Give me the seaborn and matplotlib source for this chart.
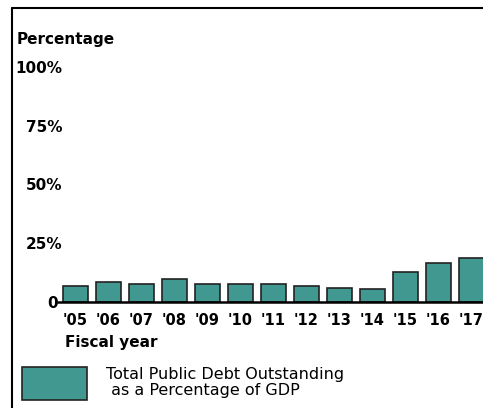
import matplotlib
matplotlib.use("Agg")
import matplotlib.pyplot as plt
from matplotlib.patches import Rectangle
from matplotlib.lines import Line2D
import seaborn as sns
import pandas as pd

# dados
anos = ["'05", "'06", "'07", "'08", "'09", "'10", "'11", "'12", "'13", "'14", "'15", "'16", "'17"]
valores = [6.7, 8.4, 7.5, 9.9, 7.8, 7.6, 7.8, 6.7, 6.1, 5.7, 12.8, 16.4, 18.8]
yticks = [0, 25, 50, 75, 100]
ytick_labels = ["0", "25%", "50%", "75%", "100%"]
legenda = "Total Public Debt Outstanding"
legenda2 = " as a Percentage of GDP"

cor = "#409890"
borda = "#222222"
W, H = 483, 408

sns.set_theme(style="white")
plt.rcParams['font.family'] = ['DejaVu Sans']
plt.rcParams['text.color'] = 'black'
plt.rcParams['xtick.color'] = 'black'
plt.rcParams['ytick.color'] = 'black'

df = pd.DataFrame({"ano": anos, "valor": valores})

fig = plt.figure(figsize=(W / 100, H / 100), dpi=100)
# eixo vai até a borda direita (gráfico cortado)
ax = fig.add_axes([58 / W, (H - 302) / H, (W - 58) / W, 235 / H])
sns.barplot(data=df, x="ano", y="valor", color=cor, saturation=1, width=0.73,
            edgecolor=borda, linewidth=1.2, ax=ax)
ax.set_xlim(-0.53, -0.53 + (W - 58) / 33)
ax.set_ylim(0, 100)
ax.set_xlabel("")
ax.set_ylabel("")
for s in ["top", "right", "left"]:
    ax.spines[s].set_visible(False)
ax.spines["bottom"].set_color("black")
ax.spines["bottom"].set_linewidth(1.8)
ax.set_yticks(yticks)
ax.set_yticklabels(ytick_labels, fontsize=11, fontweight="bold")
ax.tick_params(axis="y", length=0, pad=-3)
ax.tick_params(axis="x", length=0, pad=8, labelsize=10.5)
for lab in ax.get_xticklabels():
    lab.set_fontweight("bold")
# o "0" fica mais perto da linha
ax.get_yticklabels()[0].set_x(-4 / (W - 58))

# textos
fig.text(17 / W, (H - 44) / H, "Percentage", fontsize=11, fontweight="bold", va="baseline")
fig.text(65 / W, (H - 347) / H, "Fiscal year", fontsize=11, fontweight="bold", va="baseline")

# legenda
fig.add_artist(Rectangle((22 / W, (H - 400) / H), 65 / W, 33 / H, transform=fig.transFigure,
                         facecolor=cor, edgecolor=borda, linewidth=1.2))
fig.text(106 / W, (H - 379) / H, legenda, fontsize=11.5, va="baseline")
fig.text(106 / W, (H - 395) / H, legenda2, fontsize=11.5, va="baseline")

# moldura
fig.add_artist(Line2D([11.5 / W, 1], [(H - 8) / H, (H - 8) / H], color="black", linewidth=1.5))
fig.add_artist(Line2D([11.5 / W, 11.5 / W], [0, (H - 8) / H], color="black", linewidth=1.5))

fig.savefig("out.png", dpi=100)
